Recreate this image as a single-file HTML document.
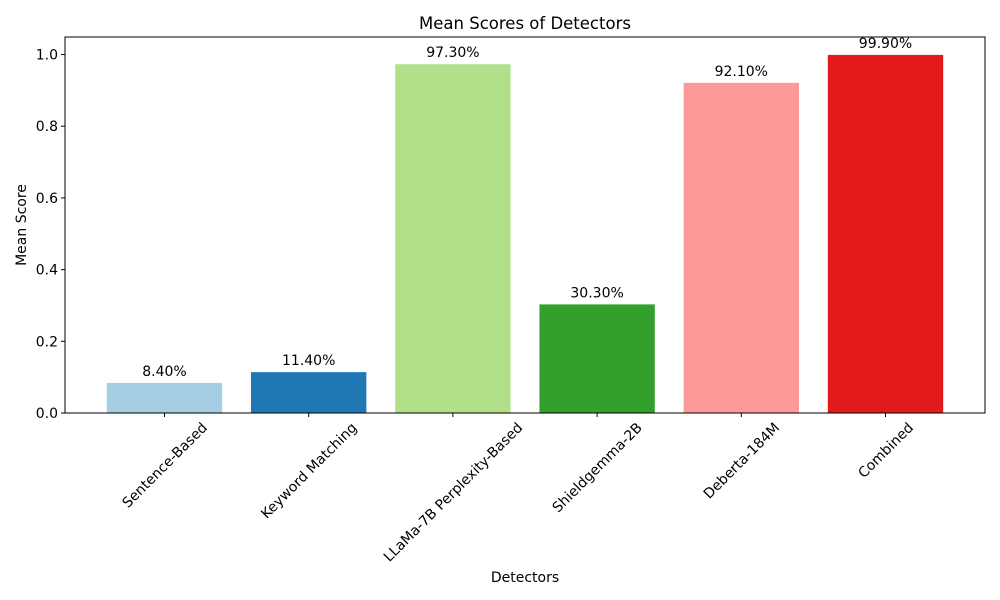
<!DOCTYPE html>
<html><head><meta charset="utf-8">
<style>
body{margin:0;background:#fff;}
svg{display:block;font-family:"DejaVu Sans","Liberation Sans",sans-serif;}
</style></head>
<body>
<svg id="chart" width="1000" height="600" viewBox="0 0 1000 600" xmlns="http://www.w3.org/2000/svg">
<rect width="1000" height="600" fill="#fff"/>
<text x="525" y="29" font-size="16.5" text-anchor="middle">Mean Scores of Detectors</text>
<g id="plot"></g>
<text x="525" y="582" font-size="14" text-anchor="middle">Detectors</text>
<text transform="translate(26,225) rotate(-90)" font-size="14" text-anchor="middle">Mean Score</text>
</svg>
<script>
const categories = ["Sentence-Based","Keyword Matching","LLaMa-7B Perplexity-Based","Shieldgemma-2B","Deberta-184M","Combined"];
const values = [0.084,0.114,0.973,0.303,0.921,0.999];
const valueLabels = ["8.40%","11.40%","97.30%","30.30%","92.10%","99.90%"];
const yTicks = [0.0,0.2,0.4,0.6,0.8,1.0];
const colors = ["#a6cee3","#1f78b4","#b2df8a","#33a02c","#fb9a99","#e31a1c"];

const NS="http://www.w3.org/2000/svg";
const L=65,R=985,T=37,B=413;
const xmin=-0.69,xmax=categories.length-1+0.69;
const ymax=Math.max(...values)*1.05;
const xs=v=>L+(v-xmin)/(xmax-xmin)*(R-L);
const ys=v=>B-v/ymax*(B-T);
const g=document.getElementById('plot');
function mk(tag,attrs,parent){const e=document.createElementNS(NS,tag);for(const k in attrs)e.setAttribute(k,attrs[k]);(parent||g).appendChild(e);return e;}

values.forEach((v,i)=>{
  const r=mk('rect',{x:xs(i-0.4),y:ys(v),width:xs(i+0.4)-xs(i-0.4),height:B-ys(v),fill:colors[i]});
  
  
  const t=mk('text',{x:xs(i),y:ys(v)-7,'font-size':14,'text-anchor':'middle'});
  t.textContent=valueLabels[i];
  
  
});

const frame=mk('rect',{x:L,y:T,width:R-L,height:B-T,fill:'none',stroke:'#000','stroke-width':1});



yTicks.forEach(v=>{
  const y=ys(v);
  const l=mk('line',{x1:L-4,x2:L,y1:y,y2:y,stroke:'#000'});
  
  
  const t=mk('text',{x:L-7,y:y+5,'font-size':14,'text-anchor':'end'});
  t.textContent=v.toFixed(1);
  
  
});

categories.forEach((c,i)=>{
  const x=xs(i);
  const l=mk('line',{x1:x,x2:x,y1:B,y2:B+4,stroke:'#000'});
  
  
  const t=mk('text',{x:0,y:0,'font-size':14,'text-anchor':'middle'});
  t.textContent=c;
  
  
  const w=t.getComputedTextLength(), h=14;
  const bh=(w+h)*0.7071;
  const cy=B+7+bh/2;
  t.setAttribute('transform','translate('+x+','+cy+') rotate(-45) translate(0,'+(h*0.35)+')');
});
</script>
</body></html>
